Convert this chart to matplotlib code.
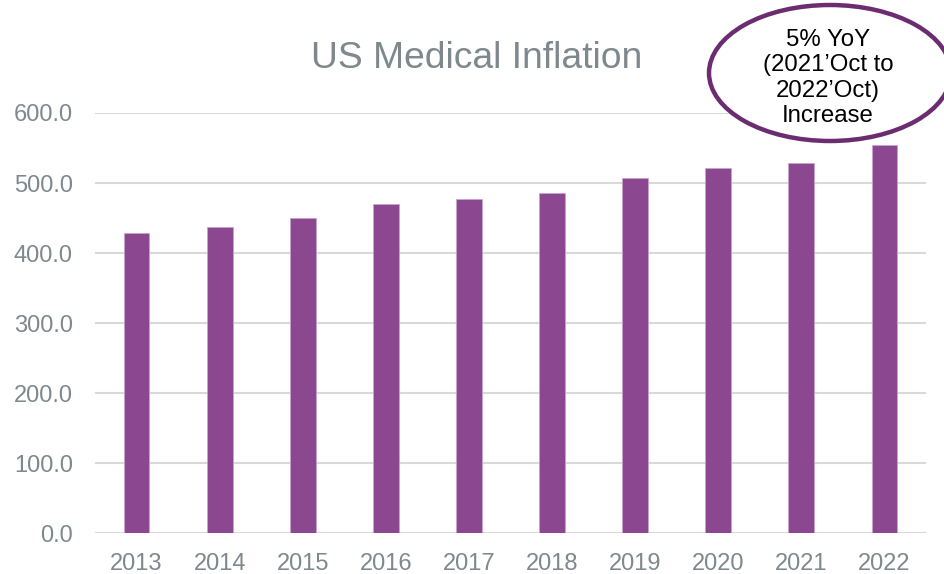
import matplotlib
matplotlib.use("Agg")
import matplotlib.pyplot as plt
from matplotlib.patches import Ellipse

years = ["2013", "2014", "2015", "2016", "2017", "2018", "2019", "2020", "2021", "2022"]
values = [428.6, 437.6, 450.5, 470.0, 477.0, 485.7, 506.5, 521.0, 528.5, 554.5]
yticks = [0, 100, 200, 300, 400, 500, 600]
title = "US Medical Inflation"
callout = "5% YoY\n(2021\u2019Oct to\n2022\u2019Oct)\nIncrease"

plt.rcParams["font.family"] = ["Liberation Sans", "DejaVu Sans"]
GREY = "#7F888D"; BAR = "#8C4791"; GRID = "#D9D9D9"

fig = plt.figure(figsize=(9.45, 5.74), dpi=100)
ax = fig.add_axes([95/945, 1-533.3/574, (926-95)/945, (533.3-113)/574])

x = list(range(len(years)))
ax.bar(x, values, width=0.31, color=BAR, edgecolor="#C9A3CC", linewidth=0.6, zorder=3)
ax.set_xlim(-0.5, len(years)-0.5)
ax.set_ylim(0, 600)
ax.set_yticks(yticks)
ax.set_yticklabels([f"{v:.1f}" for v in yticks])
ax.set_xticks(x)
ax.set_xticklabels(years)
ax.tick_params(axis="y", length=0, pad=16, labelsize=17, labelcolor=GREY)
ax.tick_params(axis="x", length=0, pad=14, labelsize=17, labelcolor=GREY)
ax.grid(axis="y", color=GRID, linewidth=1.5, zorder=0)
ax.set_axisbelow(True)
for s in ax.spines.values():
    s.set_visible(False)

fig.text(477/945, 1-59/574, title, ha="center", va="center", fontsize=26.8, color=GREY)

# callout oval
fig.add_artist(Ellipse((830/945, 1-73/574), 242/945, 136/574, transform=fig.transFigure,
                       facecolor="white", edgecolor="#6B2D6F", linewidth=3.2, zorder=5))
fig.text(828/945, 1-78/574, callout, ha="center", va="center", fontsize=17.3,
         color="black", linespacing=1.2, zorder=6)

fig.savefig("out.png", dpi=100)
